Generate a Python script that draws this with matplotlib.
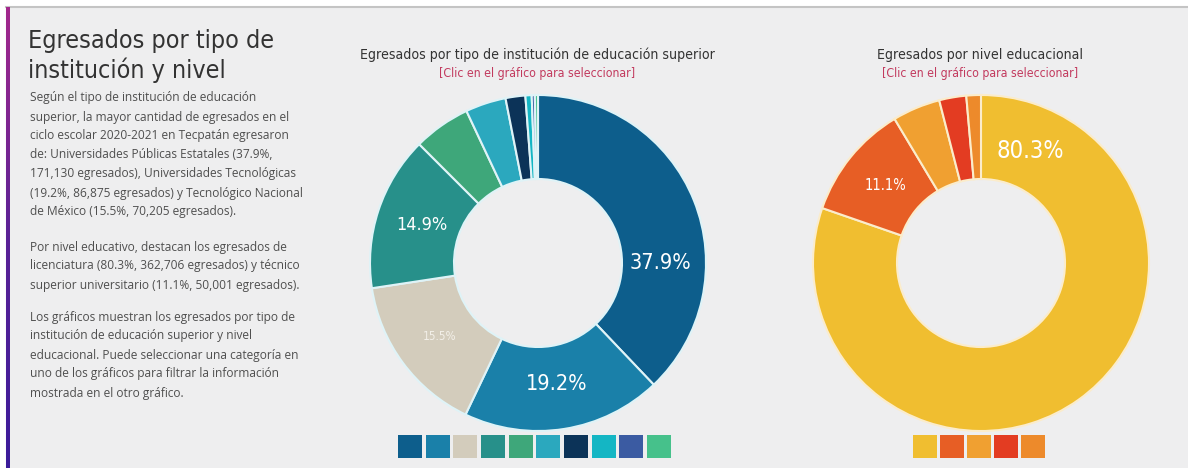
import numpy as np
import matplotlib
matplotlib.use("Agg")
import matplotlib.pyplot as plt
from matplotlib.patches import Rectangle
from matplotlib.colors import LinearSegmentedColormap
from matplotlib import font_manager as fm

# ---------------- data ----------------
inst_values = [37.9, 19.2, 15.5, 14.9, 5.5, 3.9, 1.9, 0.6, 0.3, 0.3]
inst_colors = ["#0d5e8c", "#1a80a9", "#d3ccbc", "#27908a", "#3ea77a",
               "#2ba8be", "#0c3358", "#14b6c4", "#3b5ba2", "#46c18b"]
inst_labels = ["37.9%", "19.2%", "15.5%", "14.9%", "", "", "", "", "", ""]
inst_label_pos = [25.0, 47.5, 64.85, 80.05, None, None, None, None, None, None]  # % of circle

lvl_values = [80.3, 11.1, 4.6, 2.6, 1.4]
lvl_colors = ["#f0be30", "#e75e25", "#f0a031", "#e33c22", "#ed8a2b"]
lvl_labels = ["80.3%", "11.1%", "", "", ""]
lvl_label_pos = [6.6, 85.85, None, None, None]

title_main = "Egresados por tipo de\ninstitución y nivel"
paragraphs = [
    ["Según el tipo de institución de educación",
     "superior, la mayor cantidad de egresados en el",
     "ciclo escolar 2020-2021 en Tecpatán egresaron",
     "de: Universidades Públicas Estatales (37.9%,",
     "171,130 egresados), Universidades Tecnológicas",
     "(19.2%, 86,875 egresados) y Tecnológico Nacional",
     "de México (15.5%, 70,205 egresados)."],
    ["Por nivel educativo, destacan los egresados de",
     "licenciatura (80.3%, 362,706 egresados) y técnico",
     "superior universitario (11.1%, 50,001 egresados)."],
    ["Los gráficos muestran los egresados por tipo de",
     "institución de educación superior y nivel",
     "educacional. Puede seleccionar una categoría en",
     "uno de los gráficos para filtrar la información",
     "mostrada en el otro gráfico."],
]
para_starts = [98, 247, 317]
chart1_title = "Egresados por tipo de institución de educación superior"
chart2_title = "Egresados por nivel educacional"
subtitle = "[Clic en el gráfico para seleccionar]"

# pick a condensed face if present
cond = None
for f in fm.fontManager.ttflist:
    if "condensed" in str(f.stretch).lower() or "Condensed" in f.name or "Narrow" in f.name:
        if "Bold" not in f.fname and "Oblique" not in f.fname and "Italic" not in f.fname:
            cond = f
            break

BODY = ["Open Sans", "DejaVu Sans"]

# ---------------- figure ----------------
W, H = 1188, 468
fig = plt.figure(figsize=(W / 100, H / 100), dpi=100)
fig.patch.set_facecolor("white")

def px_axes(x0, y0, w, h):
    return fig.add_axes([x0 / W, 1 - (y0 + h) / H, w / W, h / H])

def tfp(size):
    if cond is not None:
        p = fm.FontProperties(fname=cond.fname)
        p.set_size(size)
        return dict(fontproperties=p)
    return dict(family=BODY, fontsize=size)

# background panel
bg = px_axes(0, 0, W, H)
bg.add_patch(Rectangle((6, 7), W, H, color="#eeeeef", zorder=0))
bg.plot([6, W], [6.5, 6.5], color="#c4c4c4", lw=1.5, zorder=1)
grad = np.linspace(0, 1, 256).reshape(-1, 1)
cmap = LinearSegmentedColormap.from_list("bar", ["#a3288c", "#5a2296", "#3b1b9a"])
bg.imshow(grad, cmap=cmap, extent=[6, 10, H, 7], aspect="auto", zorder=2)
bg.set_xlim(0, W); bg.set_ylim(H, 0); bg.axis("off")

bg.text(28, 29, title_main, color="#333333", va="top", ha="left",
        linespacing=1.2, **tfp(18))
lh = 19
for start, para in zip(para_starts, paragraphs):
    for i, line in enumerate(para):
        bg.text(30, start + i * lh, line, fontsize=8.6, color="#4f4f4f",
                va="center", ha="left", family=BODY)

bg.text(537, 55, chart1_title, color="#333333", ha="center", va="center", **tfp(10.1))
bg.text(537, 73, subtitle, color="#c23a5e", ha="center", va="center", **tfp(8.8))
bg.text(980, 55, chart2_title, color="#333333", ha="center", va="center", **tfp(10.1))
bg.text(980, 73, subtitle, color="#c23a5e", ha="center", va="center", **tfp(8.8))

# ---------------- donuts ----------------
R = 168
def donut(cx, cy, values, colors, labels, label_pos, edge, sizes):
    ax = px_axes(cx - R, cy - R, 2 * R, 2 * R)
    ax.pie(values, colors=colors, startangle=90, counterclock=False,
           radius=1.0, wedgeprops=dict(width=0.5, edgecolor=edge, linewidth=1.5))
    ax.set_xlim(-1, 1); ax.set_ylim(-1, 1); ax.set_aspect("equal")
    ax.axis("off")
    for lab, pos, s in zip(labels, label_pos, sizes):
        if not lab:
            continue
        a = np.deg2rad(pos * 3.6)
        r = 0.73
        col = "white" if lab != "15.5%" else "#f2efe8"
        ax.text(r * np.sin(a), r * np.cos(a), lab, ha="center", va="center",
                color=col, **tfp(s))
    return ax

donut(538, 263, inst_values, inst_colors, inst_labels, inst_label_pos, "#dff3f7",
      [15.5, 15.5, 8.5, 13, 0, 0, 0, 0, 0, 0])
donut(981, 263, lvl_values, lvl_colors, lvl_labels, lvl_label_pos, "#fbeccb",
      [17, 10.5, 0, 0, 0])

# ---------------- legend squares ----------------
def squares(x0, colors, pitch=27.7):
    n = len(colors)
    ax = px_axes(x0, 435, n * pitch, 23)
    ax.bar(np.arange(n), np.ones(n), width=24 / pitch, color=colors, align="center")
    ax.set_xlim(-0.5, n - 0.5); ax.set_ylim(0, 1)
    ax.axis("off")

squares(396, inst_colors)
squares(911, lvl_colors, pitch=27.2)

fig.savefig("out.png", dpi=100, facecolor=fig.get_facecolor())
